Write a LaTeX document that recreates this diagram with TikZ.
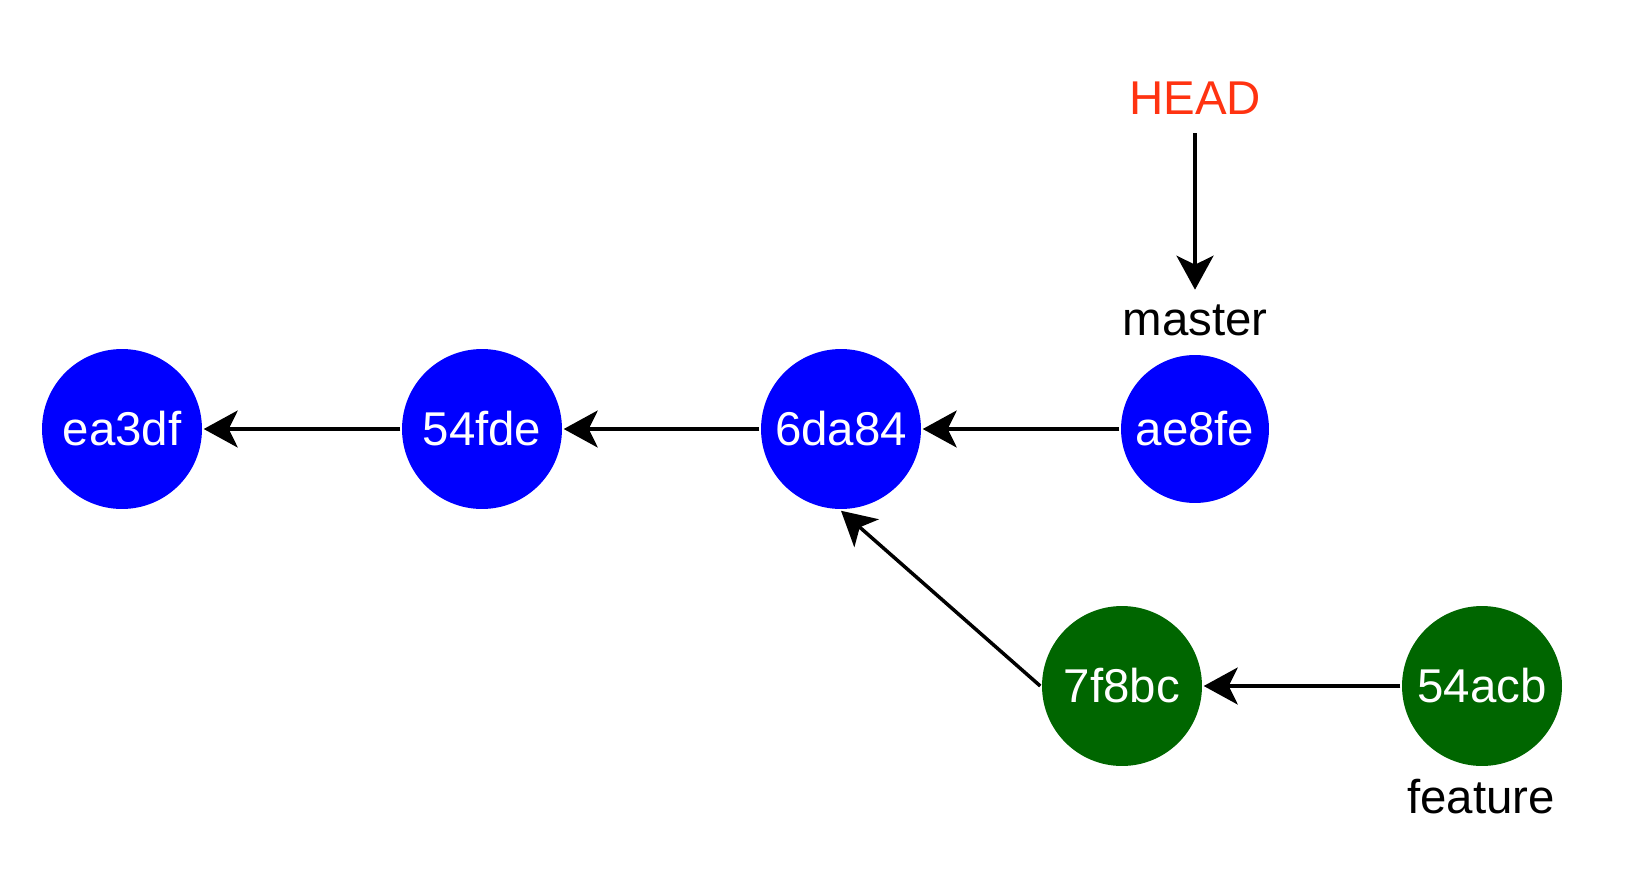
\documentclass[tikz,border=0pt]{standalone}
\usepackage{fontspec}
\setmainfont{Liberation Sans}
\usepackage{tikz}
\usetikzlibrary{arrows.meta}
\definecolor{commitblue}{RGB}{0,0,255}
\definecolor{commitgreen}{RGB}{0,102,0}
\definecolor{headred}{RGB}{255,51,17}
\begin{document}
\begin{tikzpicture}[x=0.02cm, y=-0.02cm,
        commit/.style={circle, minimum size=3.2cm, inner sep=0pt, text=white,
          font=\fontsize{27}{32}\selectfont},
        onmaster/.style={commit, fill=commitblue},
        onfeature/.style={commit, fill=commitgreen},
        label/.style={inner sep=0pt, font=\fontsize{27}{32}\selectfont},
        >={Stealth[length=0.68cm, width=0.74cm, inset=0.18cm]},
        line width=0.07cm]
        \useasboundingbox (0,0) rectangle (1640,896);
        \node (A) at (122,429) [onmaster] {ea3df};
        \node (B) at (482,429) [onmaster] {54fde};
        \node (C) at (841,429) [onmaster] {6da84};
        \node (D) at (1195,429) [onmaster, minimum size=2.96cm] {ae8fe};
        \node (E) at (1122,686) [onfeature] {7f8bc};
        \node (F) at (1482,686) [onfeature] {54acb};
        \node (H) at (1195,98) [label, text=headred] {HEAD};
        \node (M) at (1195,320) [label] {master};
        \node (G) at (1481,797) [label] {feature};
      \draw[->] (B) -- (A);
      \draw[->] (C) -- (B);
      \draw[->] (D) -- (C);
      \draw[->] (E.west) -- (C.south);
      \draw[->] (F) -- (E);
      \draw[->, shorten <=0.34cm, shorten >=0.26cm] (H) -- (M);
    \end{tikzpicture}
\end{document}
